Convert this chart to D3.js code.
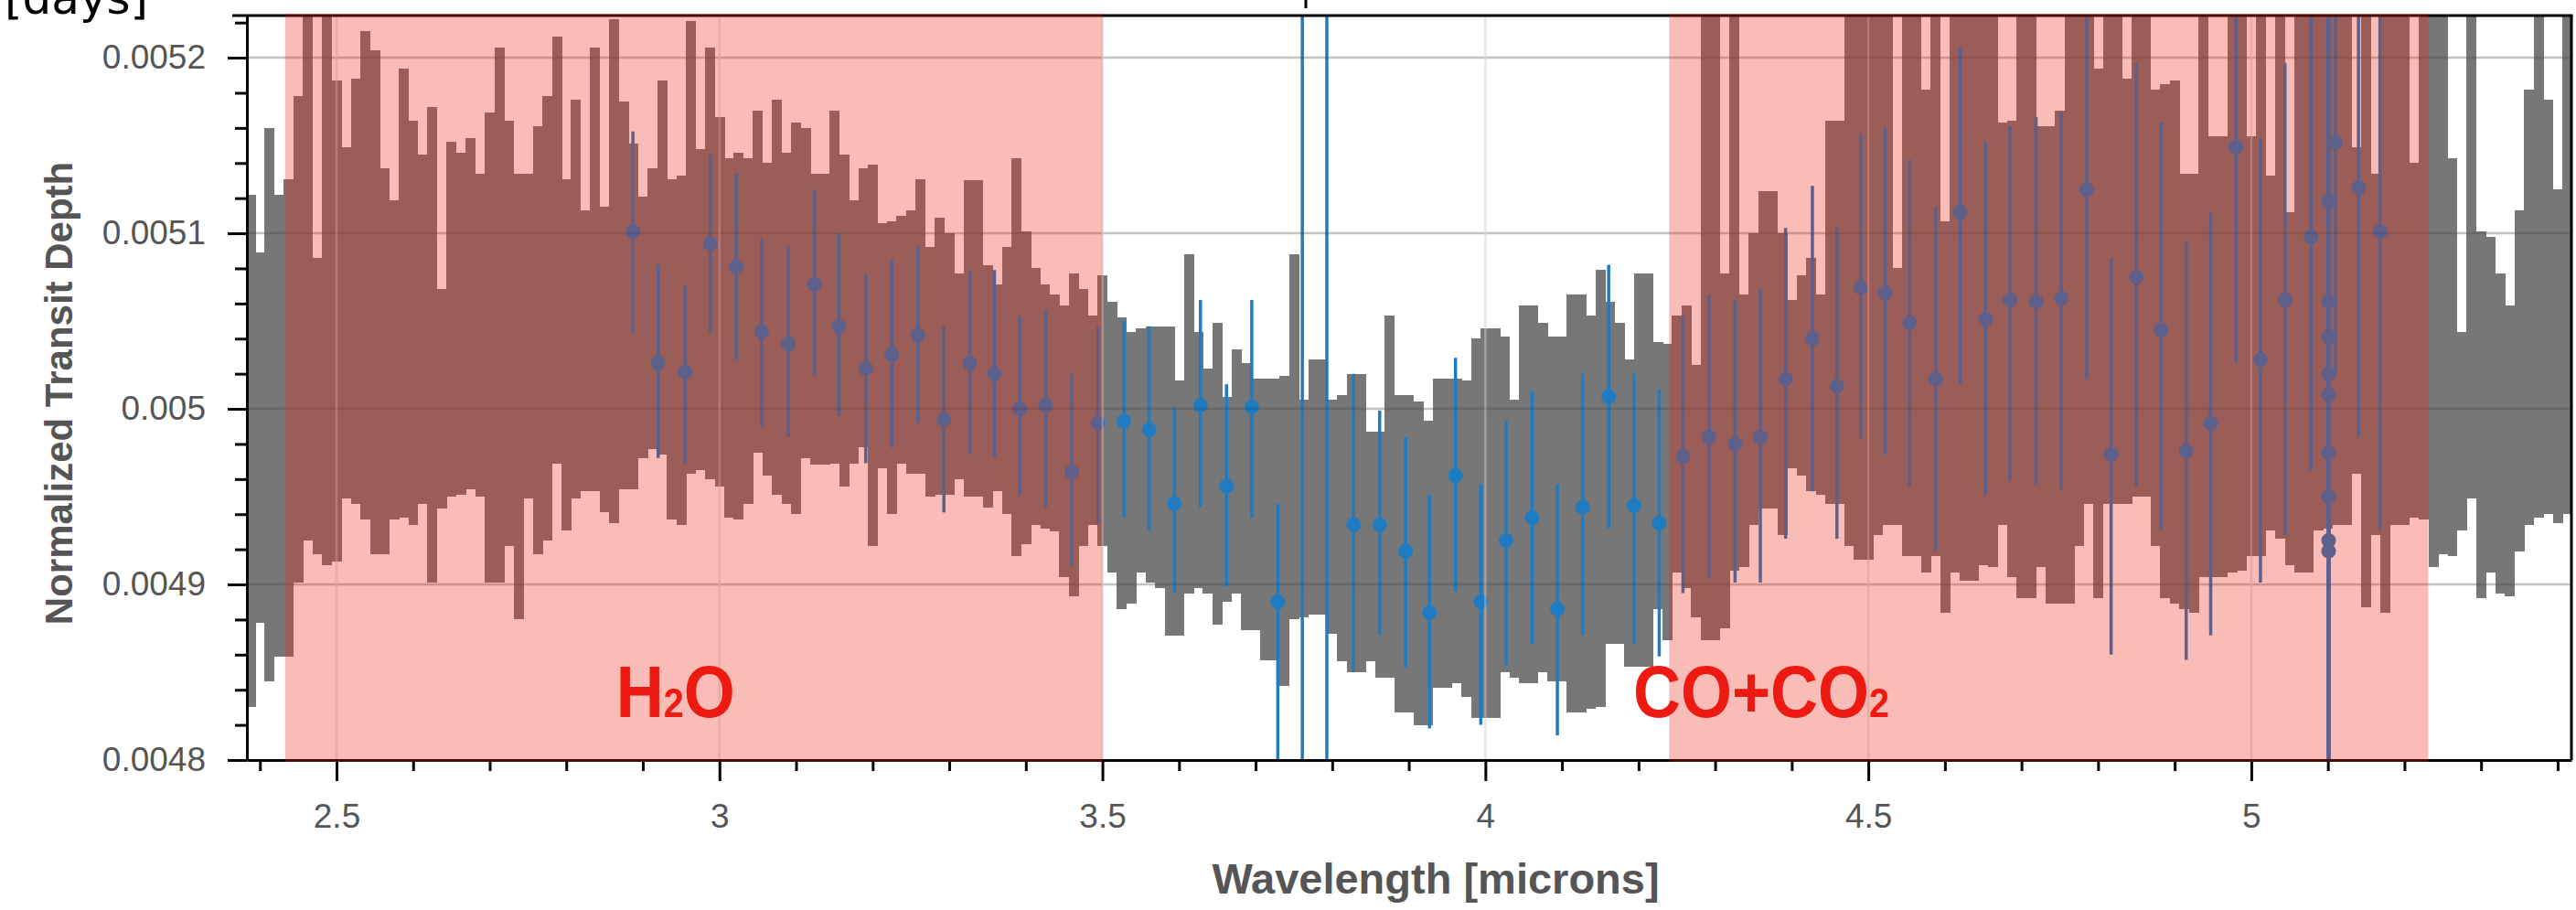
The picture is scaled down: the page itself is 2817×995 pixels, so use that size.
<!DOCTYPE html>
<html>
<head>
<meta charset="utf-8">
<title>Transit spectrum</title>
<script src="https://cdn.jsdelivr.net/npm/d3@7"></script>
<style>
  body { margin: 0; background: #fff; }
  svg { display: block; }
</style>
</head>
<body>
<div id="chart"></div>
<script>

// high resolution spectrum, bin centres in microns and top / bottom of each bar (ppm)
var specWave = [
  2.3875, 2.4, 2.4125, 2.425, 2.4375, 2.45, 2.4625, 2.475, 2.4875, 2.5,
  2.5125, 2.525, 2.5375, 2.55, 2.5625, 2.575, 2.5875, 2.6, 2.6125, 2.625,
  2.6375, 2.65, 2.6625, 2.675, 2.6875, 2.7, 2.7125, 2.725, 2.7375, 2.75,
  2.7625, 2.775, 2.7875, 2.8, 2.8125,
  2.825, 2.8375, 2.85, 2.8625, 2.875, 2.8875, 2.9, 2.9125, 2.925, 2.9375,
  2.95, 2.9625, 2.975, 2.9875, 3.0, 3.0125, 3.025, 3.0375, 3.05, 3.0625,
  3.075, 3.0875, 3.1, 3.1125, 3.125, 3.1375, 3.15, 3.1625, 3.175, 3.1875,
  3.2, 3.2125, 3.225, 3.2375, 3.25, 3.2625, 3.275, 3.2875, 3.3, 3.3125,
  3.325, 3.3375, 3.35,
  3.3625, 3.375, 3.3875, 3.4, 3.4125, 3.425, 3.4375, 3.45, 3.4625, 3.475,
  3.4875, 3.5, 3.5125, 3.525, 3.5375, 3.55, 3.5625, 3.575, 3.5875, 3.6,
  3.6125, 3.625, 3.6375, 3.65, 3.6625, 3.675, 3.6875, 3.7, 3.7125, 3.725,
  3.7375, 3.75, 3.7625, 3.775, 3.7875, 3.8, 3.8125, 3.825, 3.8375, 3.85,
  3.8625, 3.875, 3.8875,
  3.9, 3.9125, 3.925, 3.9375, 3.95, 3.9625, 3.975, 3.9875, 4.0, 4.0125,
  4.025, 4.0375, 4.05, 4.0625, 4.075, 4.0875, 4.1, 4.1125, 4.125, 4.1375,
  4.15, 4.1625, 4.175, 4.1875, 4.2, 4.2125, 4.225, 4.2375, 4.25, 4.2625,
  4.275, 4.2875, 4.3, 4.3125, 4.325, 4.3375, 4.35, 4.3625, 4.375, 4.3875,
  4.4, 4.4125, 4.425,
  4.4375, 4.45, 4.4625, 4.475, 4.4875, 4.5, 4.5125, 4.525, 4.5375, 4.55,
  4.5625, 4.575, 4.5875, 4.6, 4.6125, 4.625, 4.6375, 4.65, 4.6625, 4.675,
  4.6875, 4.7, 4.7125, 4.725, 4.7375, 4.75, 4.7625, 4.775, 4.7875, 4.8,
  4.8125, 4.825, 4.8375, 4.85, 4.8625, 4.875, 4.8875, 4.9, 4.9125, 4.925,
  4.9375, 4.95, 4.9625,
  4.975, 4.9875, 5.0, 5.0125, 5.025, 5.0375, 5.05, 5.0625, 5.075, 5.0875,
  5.1, 5.1125, 5.125, 5.1375, 5.15, 5.1625, 5.175, 5.1875, 5.2, 5.2125,
  5.225, 5.2375, 5.25, 5.2625, 5.275, 5.2875, 5.3, 5.3125, 5.325, 5.3375,
  5.35, 5.3625, 5.375, 5.3875, 5.4, 5.4125
];
var specHi = [
  5122, 5089, 5160, 5122, 5131, 5178, 5240, 5086, 5240, 5187,
  5149, 5188, 5215, 5204, 5137, 5119, 5194, 5164, 5145, 5172,
  5068, 5152, 5146, 5154, 5134, 5169, 5206, 5164, 5134, 5134,
  5161, 5178, 5212, 5131, 5176,
  5113, 5206, 5115, 5222, 5175, 5151, 5121, 5137, 5187, 5131,
  5133, 5221, 5148, 5206, 5166, 5143, 5146, 5143, 5170, 5140,
  5176, 5146, 5163, 5160, 5134, 5134, 5170, 5145, 5119, 5137,
  5139, 5106, 5107, 5110, 5113, 5131, 5092, 5109, 5100, 5077,
  5130, 5130, 5082,
  5071, 5092, 5143, 5101, 5080, 5071, 5065, 5059, 5077, 5068,
  5053, 5076, 5061, 5052, 5044, 5046, 5047, 5047, 5047, 5016,
  5088, 5044, 5023, 5049, 5007, 5034, 5026, 5017, 5017, 5017,
  5019, 5088, 5005, 5028, 5028, 5005, 5008, 5020, 5020, 4987,
  4987, 5053, 5008,
  5008, 5004, 4993, 5017, 5017, 5017, 5016, 5040, 5046, 5046,
  5041, 5005, 5059, 5059, 5049, 5041, 5041, 5065, 5065, 5053,
  5079, 5061, 5049, 5028, 5077, 5077, 5038, 5037, 5053, 5059,
  5025, 5240, 5240, 5077, 5240, 5065, 5100, 5124, 5124, 5100,
  5062, 5076, 5086,
  5065, 5164, 5164, 5240, 5240, 5240, 5240, 5240, 5080, 5240,
  5240, 5182, 5240, 5107, 5240, 5240, 5240, 5240, 5240, 5163,
  5164, 5240, 5240, 5161, 5161, 5170, 5240, 5240, 5240, 5194,
  5240, 5240, 5188, 5240, 5240, 5182, 5185, 5187, 5134, 5134,
  5240, 5155, 5155,
  5240, 5240, 5155, 5240, 5133, 5240, 5112, 5240, 5240, 5240,
  5240, 5240, 5240, 5149, 5240, 5134, 5240, 5240, 5240, 5140,
  5240, 5240, 5240, 5143, 5044, 5240, 5101, 5098, 5077, 5059,
  5113, 5182, 5240, 5176, 5125, 5240
];
var specLo = [
  4830, 4878, 4845, 4859, 4859, 4901, 4925, 4917, 4911, 4913,
  4949, 4946, 4937, 4917, 4917, 4937, 4938, 4934, 4946, 4901,
  4943, 4950, 4951, 4954, 4950, 4901, 4901, 4922, 4880, 4949,
  4917, 4925, 4969, 4931, 4949,
  4953, 4953, 4941, 4935, 4954, 4954, 4972, 4977, 4974, 4937,
  4934, 4963, 4965, 4960, 4956, 4938, 4937, 4946, 4975, 4962,
  4951, 4946, 4940, 4972, 4968, 4968, 4969, 4956, 4969, 4978,
  4922, 4966, 4940, 4969, 4963, 4963, 4950, 4951, 4951, 4960,
  4950, 4950, 4944,
  4953, 4940, 4916, 4923, 4934, 4932, 4930, 4904, 4893, 4922,
  4934, 4922, 4907, 4886, 4889, 4907, 4901, 4898, 4871, 4871,
  4895, 4898, 4895, 4877, 4890, 4895, 4874, 4874, 4857, 4857,
  4842, 4880, 4881, 4883, 4883, 4872, 4856, 4850, 4850, 4856,
  4847, 4847, 4827,
  4827, 4820, 4820, 4841, 4841, 4844, 4836, 4824, 4824, 4824,
  4850, 4847, 4844, 4844, 4850, 4845, 4845, 4827, 4827, 4829,
  4830, 4866, 4866, 4853, 4853, 4853, 4886, 4868, 4907, 4898,
  4881, 4868, 4868, 4875, 4908, 4910, 4934, 4943, 4943, 4928,
  4966, 4962, 4953,
  4951, 4946, 4946, 4922, 4914, 4914, 4928, 4934, 4934, 4916,
  4916, 4907, 4916, 4884, 4907, 4902, 4902, 4911, 4910, 4934,
  4904, 4892, 4892, 4910, 4889, 4889, 4889, 4922, 4946, 4892,
  4946, 4946, 4946, 4950, 4950, 4922, 4892, 4889, 4886, 4884,
  4904, 4904, 4904,
  4907, 4908, 4916, 4916, 4931, 4926, 4911, 4907, 4907, 4931,
  4932, 4934, 4934, 4963, 4887, 4928, 4884, 4934, 4934, 4938,
  4937, 4910, 4917, 4916, 4931, 4949, 4892, 4907, 4895, 4893,
  4919, 4934, 4938, 4940, 4935, 4940
];

// binned points: wavelength, depth and error bar ends (ppm)
var ptWave = [
  2.887, 2.920, 2.955, 2.988, 3.022, 3.055, 3.090, 3.124, 3.156, 3.191,
  3.225, 3.259, 3.293, 3.327, 3.359, 3.392, 3.426, 3.460, 3.494, 3.528,
  3.561, 3.594, 3.628, 3.662, 3.695, 3.729, 3.761, 3.793, 3.828, 3.862,
  3.896, 3.927, 3.961, 3.994, 4.027, 4.061, 4.094, 4.127, 4.161, 4.194,
  4.227, 4.258, 4.292, 4.326, 4.359, 4.392, 4.427, 4.459, 4.490, 4.522,
  4.554, 4.588, 4.620, 4.653, 4.685, 4.719, 4.752, 4.785, 4.817, 4.850,
  4.882, 4.915, 4.947, 4.980, 5.012, 5.044, 5.078, 5.110, 5.140, 5.168,
  5.101, 5.101, 5.101, 5.101, 5.101, 5.101, 5.101, 5.101, 5.101
];
var ptDepth = [
  5101, 5026, 5021, 5094, 5081, 5044, 5037, 5071, 5047, 5023,
  5031, 5042, 4994, 5026, 5020, 5000, 5002, 4964, 4992, 4993,
  4988, 4946, 5002, 4956, 5001, 4890, 5400, 5400, 4934, 4934,
  4919, 4884, 4962, 4890, 4925, 4938, 4886, 4944, 5007, 4945,
  4935, 4973, 4984, 4980, 4984, 5017, 5040, 5013, 5069, 5066,
  5049, 5017, 5112, 5051, 5062, 5061, 5063, 5125, 4974, 5075,
  5045, 4976, 4992, 5149, 5028, 5062, 5098, 5152, 5126, 5101,
  5118, 5061, 5041, 5020, 5008, 4975, 4950, 4925, 4919
];
var ptHi = [
  5158, 5082, 5070, 5145, 5134, 5097, 5092, 5125, 5100, 5077,
  5085, 5092, 5047, 5079, 5079, 5053, 5056, 5020, 5047, 5050,
  5047, 5001, 5062, 5014, 5062, 4946, 5600, 5600, 5020, 4999,
  4984, 4951, 5029, 4957, 4993, 5010, 4957, 5020, 5082, 5020,
  5011, 5053, 5065, 5062, 5068, 5103, 5127, 5103, 5157, 5160,
  5142, 5115, 5206, 5152, 5161, 5166, 5169, 5230, 5086, 5197,
  5163, 5095, 5112, 5270, 5154, 5197, 5240, 5280, 5260, 5250,
  5300, 5300, 5300, 5300, 5300, 5300, 5300, 5300, 5300
];
var ptLo = [
  5043, 4972, 4969, 5043, 5028, 4990, 4984, 5019, 4996, 4969,
  4978, 4992, 4941, 4974, 4972, 4951, 4944, 4910, 4934, 4938,
  4931, 4895, 4944, 4899, 4938, 4790, 4700, 4700, 4850, 4871,
  4853, 4818, 4896, 4820, 4854, 4866, 4814, 4871, 4932, 4866,
  4859, 4895, 4904, 4901, 4901, 4926, 4953, 4926, 4983, 4974,
  4956, 4919, 5014, 4951, 4959, 4957, 4954, 5017, 4860, 4956,
  4931, 4857, 4871, 5026, 4901, 4928, 4965, 5020, 4984, 4931,
  4750, 4750, 4750, 4750, 4750, 4750, 4750, 4750, 4750
];

// shaded absorption bands
var bandStart = [2.433, 4.24];
var bandEnd = [3.5, 5.231];
var bandLabel = ["H", "CO+CO"];
var bandLabelSub = ["2", "2"];
var bandLabelTail = ["O", ""];
var bandLabelAt = [2.865, 4.193];

// ticks
var xMajorTicks = [2.5, 3, 3.5, 4, 4.5, 5];
var xTickLabels = ["2.5", "3", "3.5", "4", "4.5", "5"];
var xMinorTicks = [2.4, 2.6, 2.7, 2.8, 2.9, 3.1, 3.2, 3.3, 3.4, 3.6, 3.7, 3.8, 3.9,
                   4.1, 4.2, 4.3, 4.4, 4.6, 4.7, 4.8, 4.9, 5.1, 5.2, 5.3, 5.4];
var yMajorTicks = [4800, 4900, 5000, 5100, 5200];
var yTickLabels = ["0.0048", "0.0049", "0.005", "0.0051", "0.0052"];
var yMinorTicks = [4820, 4840, 4860, 4880, 4920, 4940, 4960, 4980, 5020, 5040, 5060,
                   5080, 5120, 5140, 5160, 5180, 5220];

var W = 2817, H = 995;
var plotL = 270, plotR = 2812, plotT = 17, plotB = 831;
var blue = "#1f7bc2";
var textGrey = "#555";
var fontFam = "'Liberation Sans', Arial, Helvetica, sans-serif";

var svg = d3.select("#chart").append("svg")
    .attr("width", W)
    .attr("height", H);

var x = d3.scaleLinear().domain([2.383, 5.418]).range([plotL, plotR]);
var y = d3.scaleLinear().domain([4800, 5224]).range([plotB, plotT]);

svg.append("clipPath").attr("id", "plotClip")
    .append("rect")
    .attr("x", plotL).attr("y", plotT)
    .attr("width", plotR - plotL).attr("height", plotB - plotT);

// grid under the data
var gridUnder = svg.append("g");
gridUnder.selectAll(".gx").data(xMajorTicks).enter().append("line")
    .attr("x1", function (d) { return x(d); })
    .attr("x2", function (d) { return x(d); })
    .attr("y1", plotT).attr("y2", plotB)
    .attr("stroke", "#dddddd").attr("stroke-width", 2.5);
gridUnder.selectAll(".gy").data(yMajorTicks.slice(1)).enter().append("line")
    .attr("x1", plotL).attr("x2", plotR)
    .attr("y1", function (d) { return y(d); })
    .attr("y2", function (d) { return y(d); })
    .attr("stroke", "#dddddd").attr("stroke-width", 2.5);

// grey spectrum bars
var halfBin = 0.00625;
svg.append("g").attr("clip-path", "url(#plotClip)")
    .selectAll("rect").data(specWave).enter().append("rect")
    .attr("x", function (d) { return x(d - halfBin); })
    .attr("width", function (d) { return x(d + halfBin) - x(d - halfBin) + 0.5; })
    .attr("y", function (d, i) { return y(specHi[i]); })
    .attr("height", function (d, i) { return y(specLo[i]) - y(specHi[i]); })
    .attr("fill", "#777777")
    .attr("shape-rendering", "crispEdges");

// binned points with error bars
var pts = svg.append("g").attr("clip-path", "url(#plotClip)");
pts.selectAll("line").data(ptWave).enter().append("line")
    .attr("x1", function (d) { return x(d); })
    .attr("x2", function (d) { return x(d); })
    .attr("y1", function (d, i) { return y(ptHi[i]); })
    .attr("y2", function (d, i) { return y(ptLo[i]); })
    .attr("stroke", blue).attr("stroke-width", 3.5);
pts.selectAll("circle").data(ptWave).enter().append("circle")
    .attr("cx", function (d) { return x(d); })
    .attr("cy", function (d, i) { return y(ptDepth[i]); })
    .attr("r", 8)
    .attr("fill", blue);

// faint grid over the data
var gridOver = svg.append("g");
gridOver.selectAll(".gy").data(yMajorTicks.slice(1)).enter().append("line")
    .attr("x1", plotL).attr("x2", plotR)
    .attr("y1", function (d) { return y(d); })
    .attr("y2", function (d) { return y(d); })
    .attr("stroke", "rgba(0,0,0,0.12)").attr("stroke-width", 2.5);
gridOver.selectAll(".gx").data(xMajorTicks).enter().append("line")
    .attr("x1", function (d) { return x(d); })
    .attr("x2", function (d) { return x(d); })
    .attr("y1", plotT).attr("y2", plotB)
    .attr("stroke", "rgba(255,255,255,0.3)").attr("stroke-width", 2.5);

// axes
svg.append("g")
    .attr("transform", "translate(0," + plotB + ")")
    .call(d3.axisBottom(x).tickValues(xMajorTicks).tickSize(23).tickSizeOuter(0)
        .tickPadding(25).tickFormat(function (d, i) { return xTickLabels[i]; }));
svg.append("g")
    .attr("transform", "translate(0," + plotB + ")")
    .call(d3.axisBottom(x).tickValues(xMinorTicks).tickSize(12).tickFormat(""))
    .select(".domain").remove();

svg.append("g")
    .attr("transform", "translate(" + plotL + ",0)")
    .call(d3.axisLeft(y).tickValues(yMajorTicks).tickSize(21).tickSizeOuter(0)
        .tickPadding(24).tickFormat(function (d, i) { return yTickLabels[i]; }));
svg.append("g")
    .attr("transform", "translate(" + plotL + ",0)")
    .call(d3.axisLeft(y).tickValues(yMinorTicks).tickSize(13).tickFormat(""))
    .select(".domain").remove();

svg.selectAll(".domain").attr("stroke", "#000").attr("stroke-width", 3);
svg.selectAll(".tick line").attr("stroke", "#000").attr("stroke-width", 3);
svg.selectAll(".tick text")
    .attr("font-family", fontFam)
    .attr("font-size", 37)
    .attr("fill", textGrey);

// frame top and right
svg.append("line").attr("x1", 254).attr("x2", plotR + 1.5)
    .attr("y1", plotT).attr("y2", plotT)
    .attr("stroke", "#000").attr("stroke-width", 3);
svg.append("line").attr("x1", plotR).attr("x2", plotR)
    .attr("y1", plotT).attr("y2", plotB)
    .attr("stroke", "#000").attr("stroke-width", 3);

// red absorption bands, laid over everything inside the frame
svg.selectAll(".band").data(bandStart).enter().append("rect")
    .attr("x", function (d) { return x(d); })
    .attr("width", function (d, i) { return x(bandEnd[i]) - x(d); })
    .attr("y", plotT - 2)
    .attr("height", plotB - plotT + 4)
    .attr("fill", "rgb(238,32,12)")
    .attr("fill-opacity", 0.3);

// band labels
bandLabel.forEach(function (lab, i) {
    var t = svg.append("text")
        .attr("transform", "translate(" + x(bandLabelAt[i]) + ",784) scale(0.9,1)")
        .attr("font-family", fontFam)
        .attr("font-weight", "bold")
        .attr("font-size", 80)
        .attr("fill", "#ec1a10");
    t.append("tspan").text(lab);
    t.append("tspan").attr("font-size", 44).text(bandLabelSub[i]);
    if (bandLabelTail[i]) t.append("tspan").text(bandLabelTail[i]);
});

// axis titles
svg.append("text")
    .attr("x", 1570).attr("y", 977)
    .attr("text-anchor", "middle")
    .attr("font-family", fontFam)
    .attr("font-weight", "bold")
    .attr("font-size", 47)
    .attr("fill", textGrey)
    .text("Wavelength [microns]");

svg.append("text")
    .attr("transform", "translate(79,430) rotate(-90)")
    .attr("text-anchor", "middle")
    .attr("font-family", fontFam)
    .attr("font-weight", "bold")
    .attr("font-size", 42)
    .attr("fill", textGrey)
    .text("Normalized Transit Depth");

// leftovers of the panel above
svg.append("text")
    .attr("x", 5).attr("y", 15)
    .attr("font-family", "'DejaVu Sans', sans-serif")
    .attr("font-size", 50)
    .attr("fill", "#000")
    .text("[days]");
svg.append("line")
    .attr("x1", 1428).attr("x2", 1428).attr("y1", 0).attr("y2", 9)
    .attr("stroke", "#000").attr("stroke-width", 3);

</script>
</body>
</html>
